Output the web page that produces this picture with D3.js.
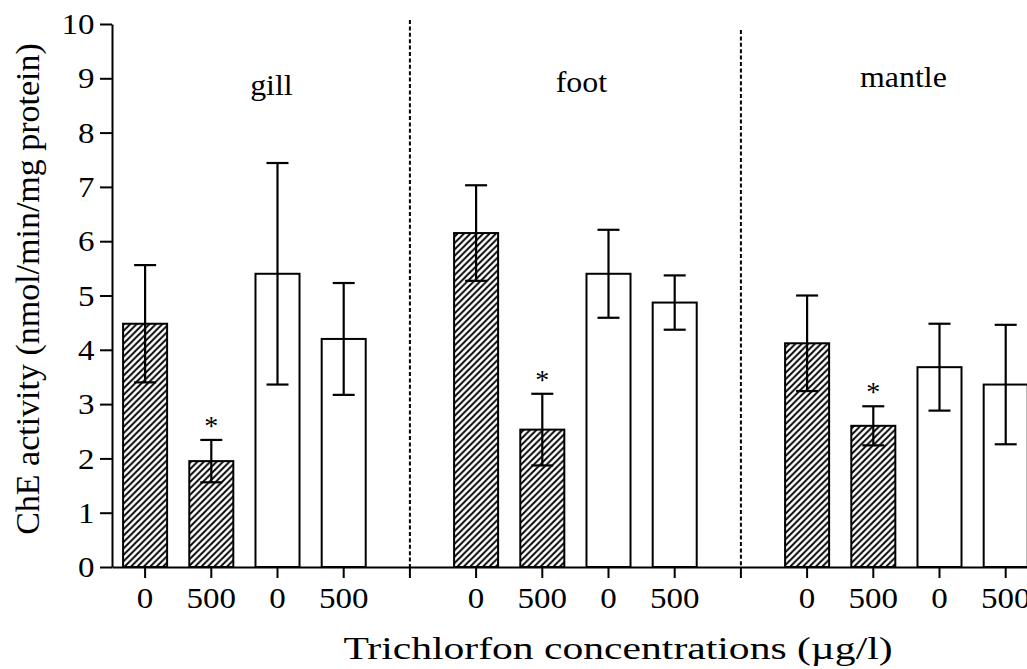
<!DOCTYPE html>
<html>
<head>
<meta charset="utf-8">
<script src="https://cdn.jsdelivr.net/npm/d3@7"></script>
<style>
  html, body { margin: 0; padding: 0; background: #fff; }
  svg { display: block; }
  text { font-family: "Liberation Serif", "Times New Roman", serif; fill: #000; }
</style>
</head>
<body>
<svg id="chart" width="1027" height="669"></svg>
<script>
// ---- data ----
var tissues = ['gill', 'foot', 'mantle'];
var concLabels = ['0', '500', '0', '500'];
var hatched = [true, true, false, false];      // first pair hatched, second pair open
var gillMeans   = [4.48, 1.95, 5.40, 4.20];
var gillErrs    = [1.08, 0.39, 2.04, 1.03];
var footMeans   = [6.15, 2.53, 5.40, 4.87];
var footErrs    = [0.88, 0.66, 0.81, 0.50];
var mantleMeans = [4.12, 2.60, 3.68, 3.36];
var mantleErrs  = [0.88, 0.36, 0.80, 1.10];
var significant = [false, true, false, false]; // asterisk over the 500 hatched bar
var yTicks = [0, 1, 2, 3, 4, 5, 6, 7, 8, 9, 10];

var means = [gillMeans, footMeans, mantleMeans];
var errs = [gillErrs, footErrs, mantleErrs];

// ---- layout ----
var svg = d3.select('#chart');
var plotLeft = 112, plotTop = 24, plotBottom = 567;
var step = 66.2;
var sx = 1.1; // the original figure is stretched a little horizontally

// slots: 4 bars per tissue, one empty slot between tissues
var slots = [];
var bars = [];
tissues.forEach(function(t, ti) {
	concLabels.forEach(function(c, ci) {
		var key = t + '-' + ci;
		slots.push(key);
		bars.push({key: key, tissue: t, label: c, mean: means[ti][ci], err: errs[ti][ci],
			hatched: hatched[ci], star: significant[ci]});
	});
	if (ti < tissues.length - 1) slots.push('gap-' + ti);
});

var x = d3.scaleBand().domain(slots).range([plotLeft, plotLeft + slots.length * step]).paddingInner(0.335).paddingOuter(0.1675);
var y = d3.scaleLinear().domain([0, 10]).range([plotBottom, plotTop]);
var labelOf = {};
bars.forEach(function(b) { labelOf[b.key] = b.label; });

// hatch pattern
var hs = 6.4;
var defs = svg.append('defs');
var pat = defs.append('pattern')
	.attr('id', 'hatch')
	.attr('patternUnits', 'userSpaceOnUse')
	.attr('width', hs).attr('height', hs);
pat.append('rect').attr('width', hs).attr('height', hs).attr('fill', '#fff');
pat.append('path')
	.attr('d', 'M-2,2 L2,-2 M0,' + hs + ' L' + hs + ',0 M' + (hs - 2) + ',' + (hs + 2) + ' L' + (hs + 2) + ',' + (hs - 2))
	.attr('stroke', '#000').attr('stroke-width', 1.9);

// separators between tissues
var sepTops = [20, 30];
slots.filter(function(s) { return s.indexOf('gap') === 0; }).forEach(function(s, i) {
	var cx = x(s) + x.bandwidth() / 2;
	svg.append('line')
		.attr('x1', cx).attr('x2', cx)
		.attr('y1', sepTops[i]).attr('y2', plotBottom)
		.attr('stroke', '#000').attr('stroke-width', 2)
		.attr('stroke-dasharray', '4,2.4');
});

// bars
svg.append('g').selectAll('rect')
	.data(bars)
	.join('rect')
		.attr('x', function(d) { return x(d.key); })
		.attr('y', function(d) { return y(d.mean); })
		.attr('width', x.bandwidth())
		.attr('height', function(d) { return y(0) - y(d.mean); })
		.attr('fill', function(d) { return d.hatched ? 'url(#hatch)' : '#fff'; })
		.attr('stroke', '#000')
		.attr('stroke-width', 2);

// error bars
var capW = 22;
var eb = svg.append('g').attr('stroke', '#000').attr('stroke-width', 2.2);
bars.forEach(function(d) {
	var cx = x(d.key) + x.bandwidth() / 2;
	eb.append('line').attr('x1', cx).attr('x2', cx).attr('y1', y(d.mean - d.err)).attr('y2', y(d.mean + d.err));
	eb.append('line').attr('x1', cx - capW/2).attr('x2', cx + capW/2).attr('y1', y(d.mean + d.err)).attr('y2', y(d.mean + d.err));
	eb.append('line').attr('x1', cx - capW/2).attr('x2', cx + capW/2).attr('y1', y(d.mean - d.err)).attr('y2', y(d.mean - d.err));
});

// asterisks
svg.append('g').selectAll('text')
	.data(bars.filter(function(d) { return d.star; }))
	.join('text')
		.attr('text-anchor', 'middle')
		.attr('font-size', 28)
		.attr('transform', function(d) {
			return 'translate(' + (x(d.key) + x.bandwidth() / 2) + ',' + (y(d.mean + d.err) - 5) + ')';
		})
		.text('*');

// axes
var yAxis = svg.append('g')
	.attr('transform', 'translate(' + plotLeft + ',0)')
	.call(d3.axisLeft(y).tickValues(yTicks).tickSize(12).tickSizeOuter(0).tickPadding(4));
var xAxis = svg.append('g')
	.attr('transform', 'translate(0,' + plotBottom + ')')
	.call(d3.axisBottom(x).tickSize(11).tickSizeOuter(0).tickPadding(9)
		.tickFormat(function(s) { return labelOf[s] || ''; }));
[yAxis, xAxis].forEach(function(a) {
	a.attr('font-family', null).attr('font-size', null);
	a.select('.domain').attr('stroke-width', 2);
	a.selectAll('.tick line').attr('stroke-width', 2);
	a.selectAll('.tick text')
		.style('font-family', '"Liberation Serif", "Times New Roman", serif')
		.style('font-size', '30px')
		.attr('fill', '#000')
		.attr('transform', 'scale(' + sx + ',1)');
});

// tissue labels
var labelDx = [27, 6, -3];
var labelY = [95, 92, 87];
tissues.forEach(function(t, i) {
	var first = x(t + '-0'), last = x(t + '-3') + x.bandwidth();
	svg.append('text')
		.attr('text-anchor', 'middle')
		.attr('font-size', 29)
		.attr('transform', 'translate(' + ((first + last) / 2 + labelDx[i]) + ',' + labelY[i] + ') scale(' + sx + ',1)')
		.text(t);
});

// axis titles
svg.append('text')
	.attr('text-anchor', 'middle')
	.attr('font-size', 32)
	.attr('transform', 'translate(618,659) scale(1.3,1)')
	.text('Trichlorfon concentrations (\u00b5g/l)');
svg.append('text')
	.attr('text-anchor', 'middle')
	.attr('font-size', 33)
	.attr('transform', 'translate(39,289) rotate(-90) scale(1.03,1)')
	.text('ChE activity (nmol/min/mg protein)');
</script>
</body>
</html>
